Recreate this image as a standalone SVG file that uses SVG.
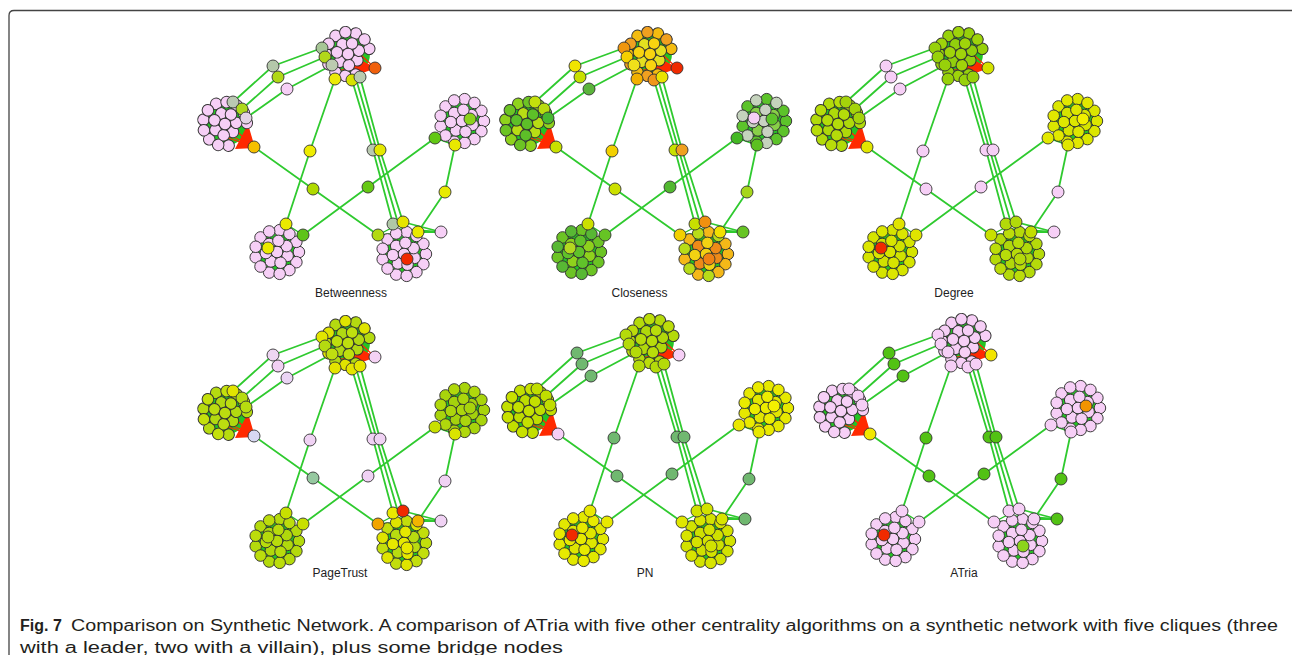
<svg xmlns="http://www.w3.org/2000/svg" xmlns:xlink="http://www.w3.org/1999/xlink" width="1292" height="655" viewBox="0 0 1292 655">
<style>
.c{stroke:#333;stroke-width:0.9}
.e{stroke:#2fca2f;stroke-width:1.8;fill:none;stroke-linecap:round;stroke-linejoin:round}
.ei{stroke:#22c022;stroke-width:1.4;fill:none}
.bg{fill:#24c424}
.w{fill:#ff2a00}
.wl{stroke:#ff2a00;stroke-width:1.2;fill:none}
.lab{font-family:"Liberation Sans",Arial,sans-serif;font-size:12px;fill:#222;text-anchor:middle}
.cap{font-family:"Liberation Sans",Arial,sans-serif;font-size:16px;fill:#231f20}
</style>
<defs>
<g id="ow"><circle class="c" cx="20.5" cy="0" r="5.4"/><circle class="c" cx="18.1" cy="9.5" r="5.4"/></g>
<g id="o1"><circle class="c" cx="11.6" cy="16.9" r="5.4"/><circle class="c" cx="-7.3" cy="19.2" r="5.4"/><circle class="c" cx="-19.9" cy="4.9" r="5.4"/><circle class="c" cx="-15.4" cy="-13.6" r="5.4"/><circle class="c" cx="2.5" cy="-20.4" r="5.4"/><circle class="c" cx="18.1" cy="-9.5" r="5.4"/></g>
<g id="o2"><circle class="c" cx="2.5" cy="20.4" r="5.4"/><circle class="c" cx="-15.4" cy="13.6" r="5.4"/><circle class="c" cx="-19.9" cy="-4.9" r="5.4"/><circle class="c" cx="-7.3" cy="-19.2" r="5.4"/><circle class="c" cx="11.6" cy="-16.9" r="5.4"/></g>
<g id="i1"><circle class="c" cx="9.9" cy="3.6" r="5.4"/><circle class="c" cx="-5.7" cy="8.8" r="5.4"/><circle class="c" cx="-7.3" cy="-7.5" r="5.4"/><circle class="c" cx="9" cy="-5.5" r="5.4"/></g>
<g id="i2"><circle class="c" cx="3.3" cy="10" r="5.4"/><circle class="c" cx="-10.4" cy="1" r="5.4"/><circle class="c" cx="1.3" cy="-10.4" r="5.4"/><circle class="c" cx="0" cy="0" r="5.4"/></g>
<circle id="t1" class="c" cx="322" cy="48" r="6"/><circle id="t2" class="c" cx="325" cy="57" r="6"/><circle id="t3" class="c" cx="332" cy="65" r="6"/><circle id="t4" class="c" cx="335" cy="79" r="6"/><circle id="t5" class="c" cx="352" cy="80" r="6"/><circle id="t6" class="c" cx="360" cy="77" r="6"/><circle id="t7" class="c" cx="375" cy="68" r="6"/>
<circle id="l1" class="c" cx="233" cy="102" r="6"/><circle id="l2" class="c" cx="242" cy="109" r="6"/><circle id="l3" class="c" cx="246" cy="118" r="6"/><circle id="l0" class="c" cx="254" cy="147" r="6"/>
<circle id="p1" class="c" cx="273" cy="66" r="6"/><circle id="p2" class="c" cx="278" cy="77" r="6"/><circle id="p3" class="c" cx="287" cy="89" r="6"/>
<circle id="b1" class="c" cx="310" cy="151" r="6"/><circle id="m1" class="c" cx="313" cy="189" r="6"/><circle id="m2" class="c" cx="368" cy="187" r="6"/><circle id="g1" class="c" cx="373" cy="150" r="6"/><circle id="g2" class="c" cx="380" cy="150" r="6"/><circle id="r1" class="c" cx="445" cy="192" r="6"/>
<circle id="rl" class="c" cx="435" cy="138" r="6"/><circle id="rb" class="c" cx="455" cy="145" r="6"/><circle id="rs" class="c" cx="470" cy="119" r="6"/><circle id="rp" class="c" cx="452" cy="118" r="6"/>
<circle id="blt" class="c" cx="286" cy="224" r="6"/><circle id="blr" class="c" cx="303" cy="235" r="6"/><circle id="bls" class="c" cx="268" cy="248" r="6"/>
<circle id="brl" class="c" cx="378" cy="235" r="6"/><circle id="br1" class="c" cx="393" cy="224" r="6"/><circle id="br2" class="c" cx="403" cy="222" r="6"/><circle id="brr" class="c" cx="418" cy="232" r="6"/><circle id="brs" class="c" cx="407" cy="259" r="6"/><circle id="x1" class="c" cx="441" cy="232" r="6"/>
<g id="edgeTpl">
<circle class="bg" cx="348" cy="54" r="22"/><circle class="bg" cx="225" cy="124" r="22"/><circle class="bg" cx="462" cy="121" r="22"/><circle class="bg" cx="277" cy="252" r="22"/><circle class="bg" cx="404" cy="254" r="22"/>
<path class="ei" d="M322,48L348,54M325,57L348,54M332,65L348,54M335,79L348,54M352,80L348,54M360,77L348,54M322,48L340,62M335,79L356,62M360,77L340,60M233,102L225,124M242,109L225,124M246,118L225,124M233,102L238,128M435,138L462,121M455,145L462,121M435,138L455,145M435,138L470,128M455,145L445,118M286,224L277,252M303,235L277,252M286,224L303,235M303,235L265,245M378,235L404,254M393,224L404,254M403,222L404,254M418,232L404,254M378,235L418,232M393,224L418,232M378,235L403,222"/>
<polyline class="e" points="322,48 273,66 233,102"/>
<polyline class="e" points="325,57 278,77 242,109"/>
<polyline class="e" points="332,65 287,89 246,118"/>
<polyline class="e" points="335,79 310,151 286,224"/>
<polyline class="e" points="352,80 373,150 393,224"/>
<polyline class="e" points="360,77 380,150 403,222"/>
<line class="e" x1="356" y1="79" x2="398" y2="223"/>
<polyline class="e" points="254,147 313,189 378,235"/>
<polyline class="e" points="303,235 368,187 435,138"/>
<polyline class="e" points="455,145 445,192 418,232"/>
<line class="e" x1="441" y1="232" x2="418" y2="232"/>
<line class="e" x1="441" y1="232" x2="403" y2="222"/>
<line class="e" x1="441" y1="232" x2="396" y2="229"/>
<polygon class="w" points="352,57 352,77 376,68"/>
<polygon class="w" points="248,124 235,149 255,148"/>
<path class="wl" d="M375,68L340,50M375,68L345,62M375,68L338,70M375,68L350,45M254,147L222,118M254,147L230,125M254,147L220,135M254,147L215,128"/>
</g>
</defs>
<rect width="1292" height="655" fill="#ffffff"/>
<path d="M9,655V15.5Q9,10.5 14,10.5H1292" fill="none" stroke="#444" stroke-width="1.3"/>

<g id="panel-betweenness">
<g id="betweenness-connectors"><use href="#edgeTpl"/></g>
<g id="betweenness-clique-top" transform="translate(348,54) rotate(14) scale(1.07)" fill="#f6cff6"><use href="#o1"/><use href="#o2"/><use href="#i1"/><use href="#i2"/></g>
<g id="betweenness-clique-left" transform="translate(225,124) rotate(25) scale(1.07)" fill="#f6cff6"><use href="#o1"/><use href="#o2"/><use href="#i1"/><use href="#i2"/></g>
<g id="betweenness-clique-right" transform="translate(462,121) scale(1.07)" fill="#f6cff6"><use href="#ow"/><use href="#o1"/><use href="#o2"/><use href="#i1"/><use href="#i2"/></g>
<g id="betweenness-clique-bl" transform="translate(277,252) scale(1.07)" fill="#f6cff6"><use href="#ow"/><use href="#o1"/><use href="#o2"/><use href="#i1"/><use href="#i2"/></g>
<g id="betweenness-clique-br" transform="translate(404,254) scale(1.07)" fill="#f6cff6"><use href="#ow"/><use href="#o1"/><use href="#o2"/><use href="#i1"/><use href="#i2"/></g>
<g id="betweenness-nodes">
<use href="#p1" fill="#b4c8aa"/><use href="#p2" fill="#b0d816"/><use href="#p3" fill="#f6cff6"/><use href="#b1" fill="#eeec00"/><use href="#m1" fill="#b0da00"/><use href="#m2" fill="#66c814"/><use href="#g1" fill="#b9c9b0"/><use href="#g2" fill="#e4e800"/><use href="#r1" fill="#e8ea00"/><use href="#x1" fill="#f6cff6"/>
<use href="#t1" fill="#a6c696"/><use href="#t2" fill="#b2d81a"/><use href="#t3" fill="#bccbb0"/><use href="#t4" fill="#ecea08"/><use href="#t5" fill="#d6e200"/><use href="#t6" fill="#b9cbb0"/><use href="#t7" fill="#f0600c"/>
<use href="#l1" fill="#bac8b2"/><use href="#l2" fill="#aed81c"/><use href="#l3" fill="#e2d2e4"/><use href="#l0" fill="#f6c000"/>
<use href="#rl" fill="#62c814"/><use href="#rb" fill="#e8e800"/><use href="#rs" fill="#8cd21c"/>
<use href="#blt" fill="#eaea00"/><use href="#blr" fill="#5ec418"/><use href="#bls" fill="#eaea00"/>
<use href="#brl" fill="#b2da12"/><use href="#br1" fill="#b0c8a8"/><use href="#br2" fill="#e6e400"/><use href="#brr" fill="#eaea00"/><use href="#brs" fill="#f02a00"/>
</g>
<text class="lab" x="351" y="297">Betweenness</text>
</g>

<g id="panel-closeness">
<g transform="translate(302,0)">
<g id="closeness-connectors"><use href="#edgeTpl"/></g>
<g id="closeness-clique-top" transform="translate(348,54) rotate(14) scale(1.07)"><use href="#o1" fill="#f4bc10"/><use href="#o2" fill="#f0a020"/><use href="#i1" fill="#e4e020"/><use href="#i2" fill="#f8d410"/></g>
<g id="closeness-clique-left" transform="translate(225,124) rotate(25) scale(1.07)"><use href="#o1" fill="#8fd31c"/><use href="#o2" fill="#6cc424"/><use href="#i1" fill="#b8dd14"/><use href="#i2" fill="#5dbf28"/></g>
<g id="closeness-clique-right" transform="translate(462,121) scale(1.07)"><use href="#ow" fill="#5cc32a"/><use href="#o1" fill="#5cc32a"/><use href="#o2" fill="#c5d3bd"/><use href="#i1" fill="#88cf48"/><use href="#i2" fill="#c9d2c2"/></g>
<g id="closeness-clique-bl" transform="translate(277,252) scale(1.07)"><use href="#ow" fill="#6cc424"/><use href="#o1" fill="#6cc424"/><use href="#o2" fill="#58b834"/><use href="#i1" fill="#8ed21c"/><use href="#i2" fill="#60c22a"/></g>
<g id="closeness-clique-br" transform="translate(404,254) scale(1.07)"><use href="#ow" fill="#f4b818"/><use href="#o1" fill="#f4b818"/><use href="#o2" fill="#b8dc18"/><use href="#i1" fill="#ee8a18"/><use href="#i2" fill="#f2d212"/></g>
<g id="closeness-nodes">
<use href="#p1" fill="#f0e400"/><use href="#p2" fill="#c8e000"/><use href="#p3" fill="#5cb43c"/><use href="#b1" fill="#f2d000"/><use href="#m1" fill="#cce000"/><use href="#m2" fill="#52b830"/><use href="#g1" fill="#c8e000"/><use href="#g2" fill="#f0a020"/><use href="#r1" fill="#a6d61c"/><use href="#x1" fill="#66c424"/>
<use href="#t1" fill="#f0960e"/><use href="#t2" fill="#f4d000"/><use href="#t3" fill="#f0e01a"/><use href="#t4" fill="#f2b000"/><use href="#t5" fill="#f0961a"/><use href="#t6" fill="#eae400"/><use href="#t7" fill="#f02a00"/>
<use href="#l1" fill="#c4e00c"/><use href="#l2" fill="#b8dc10"/><use href="#l3" fill="#48b830"/><use href="#l0" fill="#c8e000"/>
<use href="#rl" fill="#44b824"/><use href="#rb" fill="#5cc020"/><use href="#rs" fill="#5ec42a"/><use href="#rp" fill="#f6cff6"/>
<use href="#blt" fill="#cce000"/><use href="#blr" fill="#66c424"/><use href="#bls" fill="#b4d820"/>
<use href="#brl" fill="#f2d000"/><use href="#br1" fill="#c8e000"/><use href="#br2" fill="#f09010"/><use href="#brr" fill="#f2e000"/><use href="#brs" fill="#f08214"/>
</g>
</g>
<text class="lab" x="639.5" y="297">Closeness</text>
</g>

<g id="panel-degree">
<g transform="translate(613,0)">
<g id="degree-connectors"><use href="#edgeTpl"/></g>
<g id="degree-clique-top" transform="translate(348,54) rotate(14) scale(1.07)"><use href="#o1" fill="#97d10a"/><use href="#o2" fill="#9ed40a"/><use href="#i1" fill="#92cf0c"/><use href="#i2" fill="#a0d40a"/></g>
<g id="degree-clique-left" transform="translate(225,124) rotate(25) scale(1.07)"><use href="#o1" fill="#b2db0a"/><use href="#o2" fill="#b8dd0a"/><use href="#i1" fill="#aed90a"/><use href="#i2" fill="#b4dc0a"/></g>
<g id="degree-clique-right" transform="translate(462,121) scale(1.07)"><use href="#ow" fill="#dbe600"/><use href="#o1" fill="#dbe600"/><use href="#o2" fill="#e2e800"/><use href="#i1" fill="#d6e400"/><use href="#i2" fill="#dde700"/></g>
<g id="degree-clique-bl" transform="translate(277,252) scale(1.07)"><use href="#ow" fill="#d5e400"/><use href="#o1" fill="#d5e400"/><use href="#o2" fill="#dce600"/><use href="#i1" fill="#d0e200"/><use href="#i2" fill="#d8e500"/></g>
<g id="degree-clique-br" transform="translate(404,254) scale(1.07)"><use href="#ow" fill="#b5da0a"/><use href="#o1" fill="#b5da0a"/><use href="#o2" fill="#bcdd0a"/><use href="#i1" fill="#b0d80a"/><use href="#i2" fill="#b8dc0a"/></g>
<g id="degree-nodes">
<g fill="#f6cff6"><use href="#p1"/><use href="#p2"/><use href="#p3"/><use href="#b1"/><use href="#m1"/><use href="#m2"/><use href="#g1"/><use href="#g2"/><use href="#r1"/><use href="#x1"/></g>
<g fill="#97d10a"><use href="#t1"/><use href="#t2"/><use href="#t3"/><use href="#t4"/><use href="#t5"/><use href="#t6"/></g><use href="#t7" fill="#d4e200"/>
<g fill="#a4d40a"><use href="#l1"/><use href="#l2"/><use href="#l3"/></g><use href="#l0" fill="#e2e600"/>
<use href="#rl" fill="#e2e800"/><use href="#rb" fill="#e0e600"/><use href="#rs" fill="#f2f000"/>
<use href="#blt" fill="#e0e400"/><use href="#blr" fill="#e0e400"/><use href="#bls" fill="#f02a00"/>
<use href="#brl" fill="#c8e000"/><use href="#br1" fill="#b2da0a"/><use href="#br2" fill="#b2da0a"/><use href="#brr" fill="#c2de00"/><use href="#brs" fill="#b5da0a"/>
</g>
</g>
<text class="lab" x="954" y="297">Degree</text>
</g>

<g id="panel-pagetrust">
<g transform="translate(0,289)">
<g id="pagetrust-connectors"><use href="#edgeTpl"/></g>
<g id="pagetrust-clique-top" transform="translate(348,54) rotate(14) scale(1.07)"><use href="#o1" fill="#b4da10"/><use href="#o2" fill="#e0e400"/><use href="#i1" fill="#b0d812"/><use href="#i2" fill="#bedf0e"/></g>
<g id="pagetrust-clique-left" transform="translate(225,124) rotate(25) scale(1.07)"><use href="#o1" fill="#b6db10"/><use href="#o2" fill="#c4e00c"/><use href="#i1" fill="#b2d910"/><use href="#i2" fill="#bcdd10"/></g>
<g id="pagetrust-clique-right" transform="translate(462,121) scale(1.07)"><use href="#ow" fill="#a8d40c"/><use href="#o1" fill="#a8d40c"/><use href="#o2" fill="#b0d80c"/><use href="#i1" fill="#a4d20c"/><use href="#i2" fill="#acd60c"/></g>
<g id="pagetrust-clique-bl" transform="translate(277,252) scale(1.07)"><use href="#ow" fill="#b4da0c"/><use href="#o1" fill="#b4da0c"/><use href="#o2" fill="#bcdd0c"/><use href="#i1" fill="#b0d80c"/><use href="#i2" fill="#b8dc0c"/></g>
<g id="pagetrust-clique-br" transform="translate(404,254) scale(1.07)"><use href="#ow" fill="#c2de0c"/><use href="#o1" fill="#c2de0c"/><use href="#o2" fill="#dfe400"/><use href="#i1" fill="#b8dc10"/><use href="#i2" fill="#e6e800"/></g>
<g id="pagetrust-nodes">
<use href="#p1" fill="#eed6f2"/><use href="#p2" fill="#f2d0f4"/><use href="#p3" fill="#ead4f4"/><use href="#b1" fill="#f0d2f4"/><use href="#m1" fill="#96c8a0"/><use href="#m2" fill="#f0d2f4"/><use href="#g1" fill="#f0d2f4"/><use href="#g2" fill="#f0d2f4"/><use href="#r1" fill="#f0d2f4"/><use href="#x1" fill="#f0d2f4"/>
<use href="#t1" fill="#e2e600"/><use href="#t2" fill="#b4da10"/><use href="#t3" fill="#c0de10"/><use href="#t4" fill="#e4e400"/><use href="#t5" fill="#e4e400"/><use href="#t6" fill="#e6e600"/><use href="#t7" fill="#f4d2f4"/>
<use href="#l1" fill="#e2e400"/><use href="#l2" fill="#b6db10"/><use href="#l3" fill="#b8dc10"/><use href="#l0" fill="#d8d8f2"/>
<use href="#rl" fill="#c8e000"/><use href="#rb" fill="#dae400"/><use href="#rs" fill="#a8d40c"/>
<use href="#blt" fill="#c8e000"/><use href="#blr" fill="#c8e000"/><use href="#bls" fill="#b4da0c"/>
<use href="#brl" fill="#f2a400"/><use href="#br1" fill="#eae800"/><use href="#br2" fill="#f02a00"/><use href="#brr" fill="#f2b400"/><use href="#brs" fill="#e8e800"/>
</g>
</g>
<text class="lab" x="340" y="577">PageTrust</text>
</g>

<g id="panel-pn">
<g transform="translate(304,287)">
<g id="pn-connectors"><use href="#edgeTpl"/></g>
<g id="pn-clique-top" transform="translate(348,54) rotate(14) scale(1.07)"><use href="#o1" fill="#b4da0a"/><use href="#o2" fill="#bcdd0a"/><use href="#i1" fill="#b0d80a"/><use href="#i2" fill="#b8dc0a"/></g>
<g id="pn-clique-left" transform="translate(225,124) rotate(25) scale(1.07)"><use href="#o1" fill="#c2df00"/><use href="#o2" fill="#c8e100"/><use href="#i1" fill="#bedd00"/><use href="#i2" fill="#c4e000"/></g>
<g id="pn-clique-right" transform="translate(462,121) scale(1.07)"><use href="#ow" fill="#e6e800"/><use href="#o1" fill="#e6e800"/><use href="#o2" fill="#eaea00"/><use href="#i1" fill="#e2e600"/><use href="#i2" fill="#ecec00"/></g>
<g id="pn-clique-bl" transform="translate(277,252) scale(1.07)"><use href="#ow" fill="#e2e800"/><use href="#o1" fill="#e2e800"/><use href="#o2" fill="#e8ea00"/><use href="#i1" fill="#dee600"/><use href="#i2" fill="#e6e900"/></g>
<g id="pn-clique-br" transform="translate(404,254) scale(1.07)"><use href="#ow" fill="#d2e200"/><use href="#o1" fill="#d2e200"/><use href="#o2" fill="#d8e400"/><use href="#i1" fill="#cee000"/><use href="#i2" fill="#d4e300"/></g>
<g id="pn-nodes">
<g fill="#70b870"><use href="#p1"/><use href="#p2"/><use href="#p3"/><use href="#b1"/><use href="#m1"/><use href="#m2"/><use href="#g1"/><use href="#g2"/><use href="#r1"/><use href="#x1"/></g>
<g fill="#b4da0a"><use href="#t1"/><use href="#t2"/><use href="#t3"/><use href="#t4"/><use href="#t5"/><use href="#t6"/></g><use href="#t7" fill="#f6cff6"/>
<g fill="#c0de00"><use href="#l1"/><use href="#l2"/><use href="#l3"/></g><use href="#l0" fill="#f6cff6"/>
<use href="#rl" fill="#e8e800"/><use href="#rb" fill="#e8e800"/><use href="#rs" fill="#f4f000"/>
<use href="#blt" fill="#e8e800"/><use href="#blr" fill="#e8e800"/><use href="#bls" fill="#f02a00"/>
<use href="#brl" fill="#e0e600"/><use href="#br1" fill="#d2e200"/><use href="#br2" fill="#d2e200"/><use href="#brr" fill="#d8e400"/><use href="#brs" fill="#d2e200"/>
</g>
</g>
<text class="lab" x="645" y="577">PN</text>
</g>

<g id="panel-atria">
<g transform="translate(616,287)">
<g id="atria-connectors"><use href="#edgeTpl"/></g>
<g id="atria-clique-top" transform="translate(348,54) rotate(14) scale(1.07)" fill="#f6cff6"><use href="#o1"/><use href="#o2"/><use href="#i1"/><use href="#i2"/></g>
<g id="atria-clique-left" transform="translate(225,124) rotate(25) scale(1.07)" fill="#f6cff6"><use href="#o1"/><use href="#o2"/><use href="#i1"/><use href="#i2"/></g>
<g id="atria-clique-right" transform="translate(462,121) scale(1.07)" fill="#f6cff6"><use href="#ow"/><use href="#o1"/><use href="#o2"/><use href="#i1"/><use href="#i2"/></g>
<g id="atria-clique-bl" transform="translate(277,252) scale(1.07)" fill="#f6cff6"><use href="#ow"/><use href="#o1"/><use href="#o2"/><use href="#i1"/><use href="#i2"/></g>
<g id="atria-clique-br" transform="translate(404,254) scale(1.07)" fill="#f6cff6"><use href="#ow"/><use href="#o1"/><use href="#o2"/><use href="#i1"/><use href="#i2"/></g>
<g id="atria-nodes">
<g fill="#52c214"><use href="#p1"/><use href="#p2"/><use href="#p3"/><use href="#b1"/><use href="#m1"/><use href="#m2"/><use href="#g1"/><use href="#g2"/><use href="#r1"/><use href="#x1"/></g>
<g fill="#f6cff6"><use href="#t1"/><use href="#t2"/><use href="#t3"/><use href="#t4"/><use href="#t5"/><use href="#t6"/><use href="#l1"/><use href="#l2"/><use href="#l3"/><use href="#rl"/><use href="#rb"/><use href="#blt"/><use href="#blr"/><use href="#brl"/><use href="#br1"/><use href="#br2"/><use href="#brr"/></g>
<use href="#t7" fill="#f2e400"/><use href="#l0" fill="#f2e800"/><use href="#rs" fill="#f29400"/><use href="#bls" fill="#f02a00"/><use href="#brs" fill="#8cd41c"/>
</g>
</g>
<text class="lab" x="964" y="577">ATria</text>
</g>

<g id="caption">
<text class="cap" x="20" y="631" font-weight="bold">Fig. 7</text>
<text class="cap" x="71" y="631" textLength="1207" lengthAdjust="spacingAndGlyphs">Comparison on Synthetic Network. A comparison of ATria with five other centrality algorithms on a synthetic network with five cliques (three</text>
<text class="cap" x="20" y="653" textLength="543" lengthAdjust="spacingAndGlyphs">with a leader, two with a villain), plus some bridge nodes</text>
</g>
</svg>
